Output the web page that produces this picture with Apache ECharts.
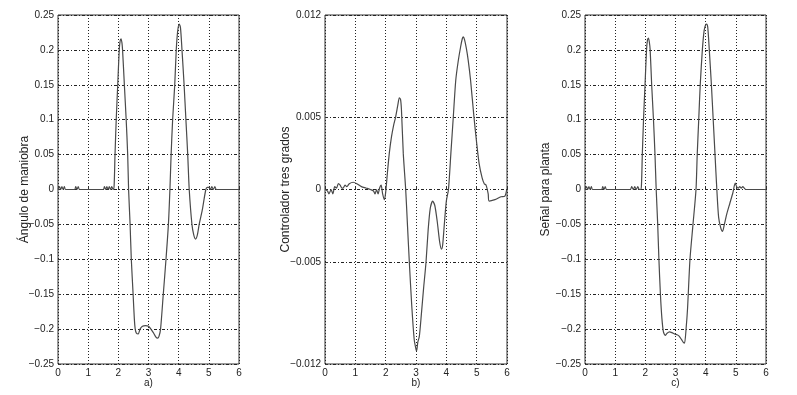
<!DOCTYPE html>
<html><head><meta charset="utf-8">
<script src="https://cdn.jsdelivr.net/npm/echarts@6/dist/echarts.min.js"></script>
<style>html,body{margin:0;padding:0;background:#fff}#c{width:797px;height:395px}</style>
</head><body><div id="c"></div>
<script>
// ---- data ----
const xTicks = [0, 1, 2, 3, 4, 5, 6];
const yTicksB = [-0.012, -0.005, 0, 0.005, 0.012];
const panelLabels = ['a)', 'b)', 'c)'];
const yNames = ['Ángulo de maniobra', 'Controlador tres grados', 'Señal para planta'];

const tA = [0,0.05,0.09,0.13,0.17,0.21,0.25,0.55,0.59,0.63,0.67,0.71,0.75,1.5,1.54,1.58,1.62,1.66,1.7,1.74,1.78,1.83,1.86,1.89,1.93,1.98,2.03,2.06,2.09,2.12,2.14,2.2,2.26,2.31,2.34,2.39,2.43,2.49,2.53,2.56,2.6,2.66,2.72,2.8,2.9,3.0,3.08,3.16,3.24,3.3,3.35,3.4,3.49,3.58,3.66,3.71,3.75,3.8,3.87,3.92,3.97,4.02,4.06,4.11,4.18,4.24,4.3,4.35,4.44,4.5,4.56,4.62,4.68,4.78,4.9,4.95,5.0,5.05,5.1,5.15,5.2,5.25,5.35,6];
const vA = [0,0.004,0,0.004,0,0.004,0,0,0.004,0,0.004,0,0,0,0.004,0,0.004,0,0.004,0,0.004,0,0.005,0.05,0.1,0.15,0.2,0.213,0.216,0.21,0.2,0.15,0.1,0.05,0,-0.05,-0.1,-0.15,-0.185,-0.2,-0.206,-0.207,-0.2,-0.196,-0.195,-0.196,-0.2,-0.205,-0.211,-0.213,-0.21,-0.2,-0.15,-0.1,-0.05,0,0.05,0.1,0.15,0.2,0.228,0.237,0.232,0.2,0.15,0.1,0.05,0,-0.05,-0.065,-0.071,-0.065,-0.05,-0.03,0,0.003,0.003,0,0.004,0,0.004,0,0,0];

const tB = [0,0.08,0.13,0.2,0.26,0.32,0.38,0.44,0.5,0.56,0.6,0.66,0.72,0.8,0.93,1.05,1.2,1.35,1.5,1.6,1.65,1.7,1.75,1.8,1.85,1.9,1.96,2.0,2.06,2.12,2.19,2.26,2.33,2.4,2.45,2.49,2.52,2.58,2.66,2.72,2.78,2.86,2.94,3.0,3.02,3.06,3.11,3.18,3.25,3.33,3.4,3.47,3.55,3.62,3.7,3.78,3.84,3.88,3.93,4.0,4.07,4.15,4.23,4.31,4.39,4.47,4.53,4.56,4.6,4.66,4.72,4.8,4.91,5.0,5.08,5.18,5.25,5.31,5.38,5.41,5.6,5.8,5.93,5.99];
const vB = [0,-0.0001,-0.0003,0,-0.0003,0.0002,0.0001,0.0004,0.0003,0.0001,0.0001,0.0003,0.0002,0.0004,0.0005,0.0004,0.0002,0.0001,0,-0.0001,-0.0003,0,-0.0003,0.0001,0.0003,-0.0003,-0.0007,-0.0002,0.0012,0.0025,0.0036,0.0044,0.005,0.0058,0.0063,0.0062,0.0055,0.0025,0,-0.0025,-0.005,-0.008,-0.0103,-0.011,-0.0111,-0.0105,-0.0101,-0.0085,-0.0068,-0.005,-0.0028,-0.0013,-0.0008,-0.0011,-0.0022,-0.0036,-0.0041,-0.0038,-0.0025,-0.0008,0,0.0025,0.005,0.0075,0.0088,0.0098,0.0104,0.0105,0.0103,0.0097,0.0089,0.0075,0.005,0.0032,0.0018,0.0008,0.0004,0.0003,-0.0003,-0.0008,-0.0007,-0.0005,-0.00045,0];

const tC = [0,0.05,0.09,0.13,0.17,0.21,0.25,0.55,0.59,0.63,0.67,0.71,0.75,1.5,1.55,1.6,1.65,1.7,1.75,1.8,1.84,1.87,1.9,1.94,1.99,2.04,2.07,2.1,2.13,2.16,2.21,2.27,2.32,2.36,2.41,2.45,2.5,2.55,2.6,2.66,2.72,2.8,2.88,2.97,3.05,3.12,3.2,3.26,3.3,3.35,3.4,3.48,3.58,3.68,3.72,3.77,3.82,3.89,3.95,4.0,4.03,4.07,4.12,4.19,4.25,4.31,4.37,4.43,4.5,4.56,4.62,4.7,4.8,4.9,4.98,5.03,5.08,5.13,5.18,5.23,5.28,5.33,5.4,6];
const vC = [0,0.004,0,0.004,0,0.004,0,0,0.004,0,0.004,0,0,0,0.004,0,0.004,0,0.004,0,0,0.005,0.05,0.1,0.15,0.2,0.214,0.217,0.212,0.2,0.15,0.1,0.05,0,-0.05,-0.1,-0.15,-0.185,-0.204,-0.209,-0.206,-0.204,-0.205,-0.207,-0.208,-0.21,-0.215,-0.219,-0.22,-0.2,-0.17,-0.1,-0.05,0,0.05,0.1,0.15,0.2,0.228,0.236,0.237,0.232,0.2,0.15,0.1,0.05,0,-0.04,-0.055,-0.06,-0.05,-0.035,-0.02,-0.005,0.009,0.004,0.002,0.004,0.002,0.004,0.002,0,0,0];

// ---- chart ----
const fmt = v => { const s = String(parseFloat((+v).toFixed(4))); return s.replace('-', '\u2212'); };
const pair = (t, v) => t.map((x, i) => [x, v[i]]);
const grids = [
  {left: 58, top: 15, width: 181, height: 349},
  {left: 325, top: 15, width: 182, height: 349},
  {left: 585, top: 15, width: 181, height: 349}
].map(g => Object.assign(g, {show: true, borderColor: '#333', borderWidth: 1, backgroundColor: '#fff'}));

const txt = {color: '#222', fontFamily: 'Liberation Sans, Arial, sans-serif'};
const xAxes = [0, 1, 2].map(i => ({
  type: 'value', gridIndex: i, min: 0, max: 6, interval: 1,
  name: panelLabels[i], nameLocation: 'middle', nameGap: 14, nameMoveOverlap: false,
  nameTextStyle: Object.assign({fontSize: 10}, txt),
  axisLine: {show: false},
  axisTick: {show: true, inside: true, length: 3, lineStyle: {color: '#333'}},
  axisLabel: Object.assign({fontSize: 10, margin: 4, formatter: v => xTicks.includes(v) ? String(v) : ''}, txt),
  splitLine: {show: true, lineStyle: {color: '#222', type: [1, 2], width: 1}}
}));
const yAxes = [0, 1, 2].map(i => {
  const base = {
    type: 'value', gridIndex: i,
    name: yNames[i], nameLocation: 'middle', nameGap: i === 0 ? 27 : 33, nameMoveOverlap: false,
    nameTextStyle: Object.assign({fontSize: 12}, txt),
    axisLine: {show: false},
    axisTick: {show: true, inside: true, length: 3, lineStyle: {color: '#333'}},
    axisLabel: Object.assign({fontSize: 10, margin: 4, formatter: fmt}, txt),
    splitLine: {show: true, lineStyle: {color: '#222', type: [3, 2, 1, 2], width: 1}}
  };
  if (i === 1) {
    base.min = -0.012; base.max = 0.012;
    base.axisTick.customValues = yTicksB;
    base.axisLabel.customValues = yTicksB;
  } else {
    base.min = -0.25; base.max = 0.25; base.interval = 0.05;
  }
  return base;
});
const data = [pair(tA, vA), pair(tB, vB), pair(tC, vC)];
const series = data.map((d, i) => ({
  type: 'line', xAxisIndex: i, yAxisIndex: i, data: d, showSymbol: false,
  smooth: 0.25, lineStyle: {color: '#4a4a4a', width: 1.2}, animation: false
}));
const chart = echarts.init(document.getElementById('c'), null, {renderer: 'canvas'});
chart.setOption({animation: false, grid: grids, xAxis: xAxes, yAxis: yAxes, series});
</script></body></html>
